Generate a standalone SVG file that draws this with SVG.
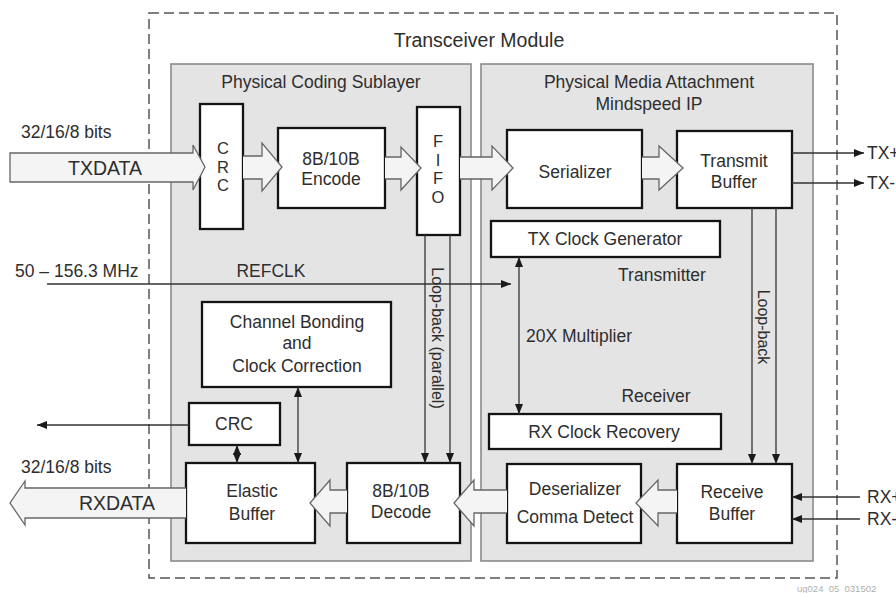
<svg xmlns="http://www.w3.org/2000/svg" width="896" height="593" viewBox="0 0 896 593">
  <style>
    text { font-family: "Liberation Sans", Arial, sans-serif; fill: #2e2e2e; font-size: 17.5px; text-anchor: middle; }
    .big { font-size: 19.5px; }
    .side { font-size: 16px; }
    .vert { font-size: 16.5px; }
    .left { text-anchor: start; }
    .box { fill: #ffffff; stroke: #141414; stroke-width: 2.3; }
    .panel { fill: #e4e4e4; stroke: #8a8a8a; stroke-width: 1.6; }
    .frame { fill: none; stroke: #555555; stroke-width: 1.5; stroke-dasharray: 10 5; }
    .wire { fill: none; stroke: #333333; stroke-width: 1.3; }
    .bus { fill: #f4f4f4; stroke: #666666; stroke-width: 1.3; stroke-linejoin: miter; }
    .tag { font-size: 9.5px; fill: #b0b0b0; text-anchor: start; }
  </style>
  <defs>
    <marker id="ah" viewBox="0 0 10 8" refX="10" refY="4" markerWidth="10" markerHeight="8" markerUnits="userSpaceOnUse" orient="auto-start-reverse">
      <path d="M0,0 L10,4 L0,8 z" fill="#1a1a1a"/>
    </marker>
  </defs>

  <rect width="896" height="593" fill="#ffffff"/>

  <!-- module frame and sublayer panels -->
  <g id="module">
    <rect class="frame" x="149" y="13" width="688" height="565"/>
    <text class="big" x="479" y="47">Transceiver Module</text>
  </g>
  <g id="pcs">
    <rect class="panel" x="171" y="64" width="300" height="497"/>
    <text x="321" y="88">Physical Coding Sublayer</text>
  </g>
  <g id="pma">
    <rect class="panel" x="481" y="64" width="332" height="497"/>
    <text x="649" y="88">Physical Media Attachment</text>
    <text x="649" y="110">Mindspeed IP</text>
    <text x="662" y="281">Transmitter</text>
    <text x="656" y="402">Receiver</text>
  </g>

  <!-- transmit path blocks -->
  <g id="tx-crc">
    <rect class="box" x="200" y="104" width="43" height="125"/>
    <text class="vert" x="223" y="154">C</text>
    <text class="vert" x="223" y="172.5">R</text>
    <text class="vert" x="223" y="191">C</text>
  </g>
  <g id="encode">
    <rect class="box" x="278" y="128" width="107" height="80"/>
    <text x="331" y="165">8B/10B</text>
    <text x="331" y="185">Encode</text>
  </g>
  <g id="fifo">
    <rect class="box" x="417" y="107" width="43" height="128"/>
    <text class="vert" x="438" y="147">F</text>
    <text class="vert" x="438" y="165.5">I</text>
    <text class="vert" x="438" y="184">F</text>
    <text class="vert" x="438" y="202.5">O</text>
  </g>
  <g id="serializer">
    <rect class="box" x="507" y="130" width="135" height="78"/>
    <text x="575" y="178">Serializer</text>
  </g>
  <g id="transmit-buffer">
    <rect class="box" x="677" y="131" width="115" height="77"/>
    <text x="734" y="167">Transmit</text>
    <text x="734" y="188">Buffer</text>
  </g>
  <g id="tx-clock">
    <rect class="box" x="491" y="221" width="229" height="36"/>
    <text x="605" y="245">TX Clock Generator</text>
  </g>

  <!-- receive path blocks -->
  <g id="rx-clock">
    <rect class="box" x="489" y="414" width="232" height="35"/>
    <text x="604" y="438">RX Clock Recovery</text>
  </g>
  <g id="receive-buffer">
    <rect class="box" x="677" y="464" width="115" height="79"/>
    <text x="732" y="498">Receive</text>
    <text x="732" y="520">Buffer</text>
  </g>
  <g id="deserializer">
    <rect class="box" x="507" y="464" width="134" height="79"/>
    <text x="575" y="495">Deserializer</text>
    <text x="575" y="523">Comma Detect</text>
  </g>
  <g id="decode">
    <rect class="box" x="347" y="463" width="113" height="80"/>
    <text x="401" y="497">8B/10B</text>
    <text x="401" y="518">Decode</text>
  </g>
  <g id="elastic-buffer">
    <rect class="box" x="186" y="463" width="129" height="80"/>
    <text x="252" y="497">Elastic</text>
    <text x="252" y="520">Buffer</text>
  </g>
  <g id="rx-crc">
    <rect class="box" x="189" y="403" width="91" height="42"/>
    <text x="234" y="430">CRC</text>
  </g>
  <g id="channel-bonding">
    <rect class="box" x="202" y="302" width="189" height="85"/>
    <text x="297" y="328">Channel Bonding</text>
    <text x="297" y="349">and</text>
    <text x="297" y="372">Clock Correction</text>
  </g>

  <!-- connectors -->
  <g id="connectors">
    <!-- wide data-path arrows -->
    <path class="bus" d="M205,167 L193,190 V182 H10 V153 H193 V145 Z"/>
    <path class="bus" d="M243,156 H262 V143 L282,167 L262,191 V179 H243"/>
    <path class="bus" d="M385,157 H401 V147 L421,168 L401,190 V179 H385"/>
    <path class="bus" d="M460,157 H492 V146 L513,168 L492,190 V179 H460"/>
    <path class="bus" d="M642,157 H659 V146 L683,168 L659,190 V179 H642"/>
    <path class="bus" d="M677,490 H658 V480 L636,503 L658,526 V513 H677"/>
    <path class="bus" d="M507,490 H474 V480 L454,503 L474,526 V513 H507"/>
    <path class="bus" d="M347,490 H330 V480 L310,503 L330,526 V513 H347"/>
    <path class="bus" d="M186,488 H25 V481 L10,503 L25,525 V518 H186"/>

    <!-- signal lines -->
    <path class="wire" d="M47,284 H511" marker-end="url(#ah)"/>
    <path class="wire" d="M519,257 V414" marker-start="url(#ah)" marker-end="url(#ah)"/>
    <path class="wire" d="M425,235 V463" marker-end="url(#ah)"/>
    <path class="wire" d="M450,235 V463" marker-end="url(#ah)"/>
    <path class="wire" d="M752,208 V464" marker-end="url(#ah)"/>
    <path class="wire" d="M776,208 V464" marker-end="url(#ah)"/>
    <path class="wire" d="M792,153 H864" marker-end="url(#ah)"/>
    <path class="wire" d="M792,183 H864" marker-end="url(#ah)"/>
    <path class="wire" d="M860,497 H792" marker-end="url(#ah)"/>
    <path class="wire" d="M860,519 H792" marker-end="url(#ah)"/>
    <path class="wire" d="M189,425 H37" marker-end="url(#ah)"/>
    <path class="wire" d="M237,445 V463" marker-start="url(#ah)" marker-end="url(#ah)"/>
    <path class="wire" d="M298,387 V463" marker-start="url(#ah)" marker-end="url(#ah)"/>

    <!-- connector labels -->
    <text class="big" x="105" y="175">TXDATA</text>
    <text class="big" x="117" y="510">RXDATA</text>
    <text class="left" x="21" y="138">32/16/8 bits</text>
    <text class="left" x="21" y="473">32/16/8 bits</text>
    <text class="left" x="15" y="277">50 – 156.3 MHz</text>
    <text x="271" y="277">REFCLK</text>
    <text class="left" x="526" y="342">20X Multiplier</text>
    <text class="side" transform="translate(437.5,338) rotate(90)" dy="5.5">Loop-back (parallel)</text>
    <text class="side" transform="translate(763,327) rotate(90)" dy="5.5">Loop-back</text>
    <text class="left" x="867" y="159">TX+</text>
    <text class="left" x="867" y="189">TX-</text>
    <text class="left" x="867" y="503">RX+</text>
    <text class="left" x="867" y="525">RX-</text>
  </g>

  <text class="tag" x="797" y="592">ug024_05_031502</text>
</svg>
